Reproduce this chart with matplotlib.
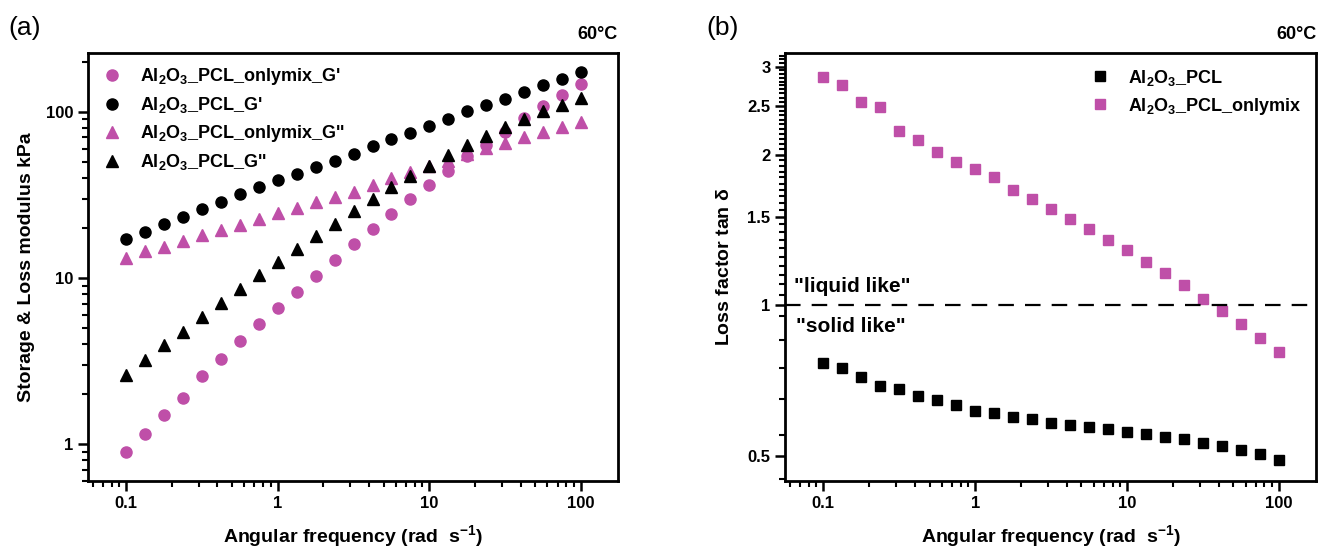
import numpy as np
import matplotlib.pyplot as plt
from matplotlib.ticker import FixedLocator, NullFormatter, LogLocator

plt.rcParams['font.family'] = ['Liberation Sans', 'DejaVu Sans']
plt.rcParams['font.weight'] = 'bold'
plt.rcParams['mathtext.fontset'] = 'custom'
plt.rcParams['mathtext.rm'] = 'Liberation Sans:bold'
plt.rcParams['mathtext.bf'] = 'Liberation Sans:bold'

# angular frequency, 8 points per decade from 0.1 to 100 rad/s
freq = [0.1, 0.133, 0.178, 0.237, 0.316, 0.422, 0.562, 0.75, 1.0, 1.33,
        1.78, 2.37, 3.16, 4.22, 5.62, 7.5, 10.0, 13.3, 17.8, 23.7,
        31.6, 42.2, 56.2, 75.0, 100.0]

# panel (a) moduli, kPa
pcl_Gp = [17.1, 19.0, 21.0, 23.3, 25.9, 28.8, 31.8, 35.1, 38.8, 42.2,
          46.5, 50.4, 55.5, 62.1, 68.7, 75.0, 82.0, 90.7, 100.4, 109.2,
          119.9, 131.6, 144.2, 158.2, 173.8]
mix_Gp = [0.90, 1.15, 1.50, 1.89, 2.58, 3.25, 4.15, 5.31, 6.57, 8.21,
          10.3, 12.9, 15.9, 19.6, 24.2, 29.7, 36.4, 44.2, 54.0, 63.2,
          75.4, 92.0, 107.6, 126.7, 147.6]
mix_Gpp = [13.2, 14.5, 15.4, 16.7, 18.1, 19.5, 20.8, 22.6, 24.5, 26.2,
           28.5, 30.5, 33.0, 36.4, 39.7, 43.2, 47.4, 50.8, 55.7, 60.4,
           64.7, 70.3, 75.4, 81.1, 86.7]
pcl_Gpp = [2.61, 3.22, 3.93, 4.73, 5.82, 7.08, 8.61, 10.4, 12.5, 15.0,
           17.9, 21.2, 25.3, 29.8, 35.1, 40.9, 47.4, 55.0, 63.2, 71.9,
           80.8, 90.7, 100.4, 110.3, 121.0]

# panel (b) loss factor tan delta
pcl_tan = [0.765, 0.748, 0.720, 0.690, 0.681, 0.659, 0.646, 0.632, 0.614, 0.610,
           0.598, 0.591, 0.581, 0.576, 0.570, 0.565, 0.558, 0.552, 0.544, 0.539,
           0.530, 0.523, 0.514, 0.504, 0.490]
mix_tan = [2.86, 2.76, 2.55, 2.49, 2.23, 2.14, 2.02, 1.93, 1.87, 1.80,
           1.70, 1.63, 1.56, 1.49, 1.42, 1.35, 1.29, 1.22, 1.16, 1.095,
           1.03, 0.973, 0.915, 0.859, 0.806]

pink = '#BF4FA8'
sub = r"Al$_\mathbf{2}$O$_\mathbf{3}$"

fig = plt.figure(figsize=(13.18, 5.52), dpi=100)
axa = fig.add_axes([0.0668, 0.1286, 0.402, 0.775])
axb = fig.add_axes([0.5956, 0.1286, 0.403, 0.775])


def style_axis(ax):
    for s in ax.spines.values():
        s.set_linewidth(2)
    ax.tick_params(which='major', direction='out', length=7, width=1.8,
                   labelsize=12, top=False, right=False)
    ax.tick_params(which='minor', direction='out', length=4, width=1.5,
                   top=False, right=False)
    ax.set_xscale('log')
    ax.set_xlim(0.056, 175)
    ax.set_xticks([0.1, 1, 10, 100])
    ax.set_xticklabels(['0.1', '1', '10', '100'])
    ax.xaxis.set_minor_locator(LogLocator(base=10, subs=np.arange(2, 10)))
    ax.xaxis.set_minor_formatter(NullFormatter())
    ax.set_xlabel(r"Angular frequency (rad  s$^\mathbf{-1}$)", fontsize=14,
                  fontweight='bold', labelpad=9)


# ---- (a)
axa.plot(freq, mix_Gp, 'o', color=pink, ms=8, label=sub + "_PCL_onlymix_G'")
axa.plot(freq, pcl_Gp, 'o', color='black', ms=8, label=sub + "_PCL_G'")
axa.plot(freq, mix_Gpp, '^', color=pink, ms=9, label=sub + "_PCL_onlymix_G''")
axa.plot(freq, pcl_Gpp, '^', color='black', ms=9, label=sub + "_PCL_G''")
axa.set_yscale('log')
axa.set_ylim(0.6, 225)
style_axis(axa)
axa.set_yticks([1, 10, 100])
axa.set_yticklabels(['1', '10', '100'])
axa.yaxis.set_minor_locator(LogLocator(base=10, subs=np.arange(2, 10)))
axa.yaxis.set_minor_formatter(NullFormatter())
axa.set_ylabel("Storage & Loss modulus kPa", fontsize=14, fontweight='bold',
               labelpad=8)
axa.legend(loc='upper left', frameon=False, fontsize=13, handletextpad=1.0,
           labelspacing=0.45, borderaxespad=0.3, handlelength=1.2)
axa.text(1.0, 1.025, "60°C", transform=axa.transAxes, ha='right', va='bottom',
         fontsize=13, fontweight='bold')
fig.text(0.006, 0.95, "(a)", fontsize=19, fontweight='normal', va='center')

# ---- (b)
axb.plot(freq, pcl_tan, 's', color='black', ms=7, label=sub + "_PCL")
axb.plot(freq, mix_tan, 's', color=pink, ms=7, label=sub + "_PCL_onlymix")
axb.axhline(1, color='black', lw=1.6, dashes=(7, 5))
axb.set_yscale('log')
axb.set_ylim(0.445, 3.19)
style_axis(axb)
axb.yaxis.set_major_locator(FixedLocator([0.5, 1, 1.5, 2, 2.5, 3]))
axb.set_yticklabels(['0.5', '1', '1.5', '2', '2.5', '3'])
minor_b = list(np.arange(0.45, 1.0, 0.1)) + list(np.arange(1.05, 3.2, 0.05))
axb.yaxis.set_minor_locator(FixedLocator(minor_b))
axb.yaxis.set_minor_formatter(NullFormatter())
axb.set_ylabel(r"Loss factor tan $\mathbf{\delta}$", fontsize=14,
               fontweight='bold', labelpad=10)
axb.legend(loc='upper right', frameon=False, fontsize=13, handletextpad=1.0,
           labelspacing=0.45, borderaxespad=0.4, handlelength=1.2)
axb.text(0.064, 1.045, '"liquid like"', fontsize=15, fontweight='bold', va='bottom')
axb.text(0.066, 0.945, '"solid like"', fontsize=15, fontweight='bold', va='top')
axb.text(1.0, 1.025, "60°C", transform=axb.transAxes, ha='right', va='bottom',
         fontsize=13, fontweight='bold')
fig.text(0.536, 0.95, "(b)", fontsize=19, fontweight='normal', va='center')

fig.savefig('out.png', dpi=100)
